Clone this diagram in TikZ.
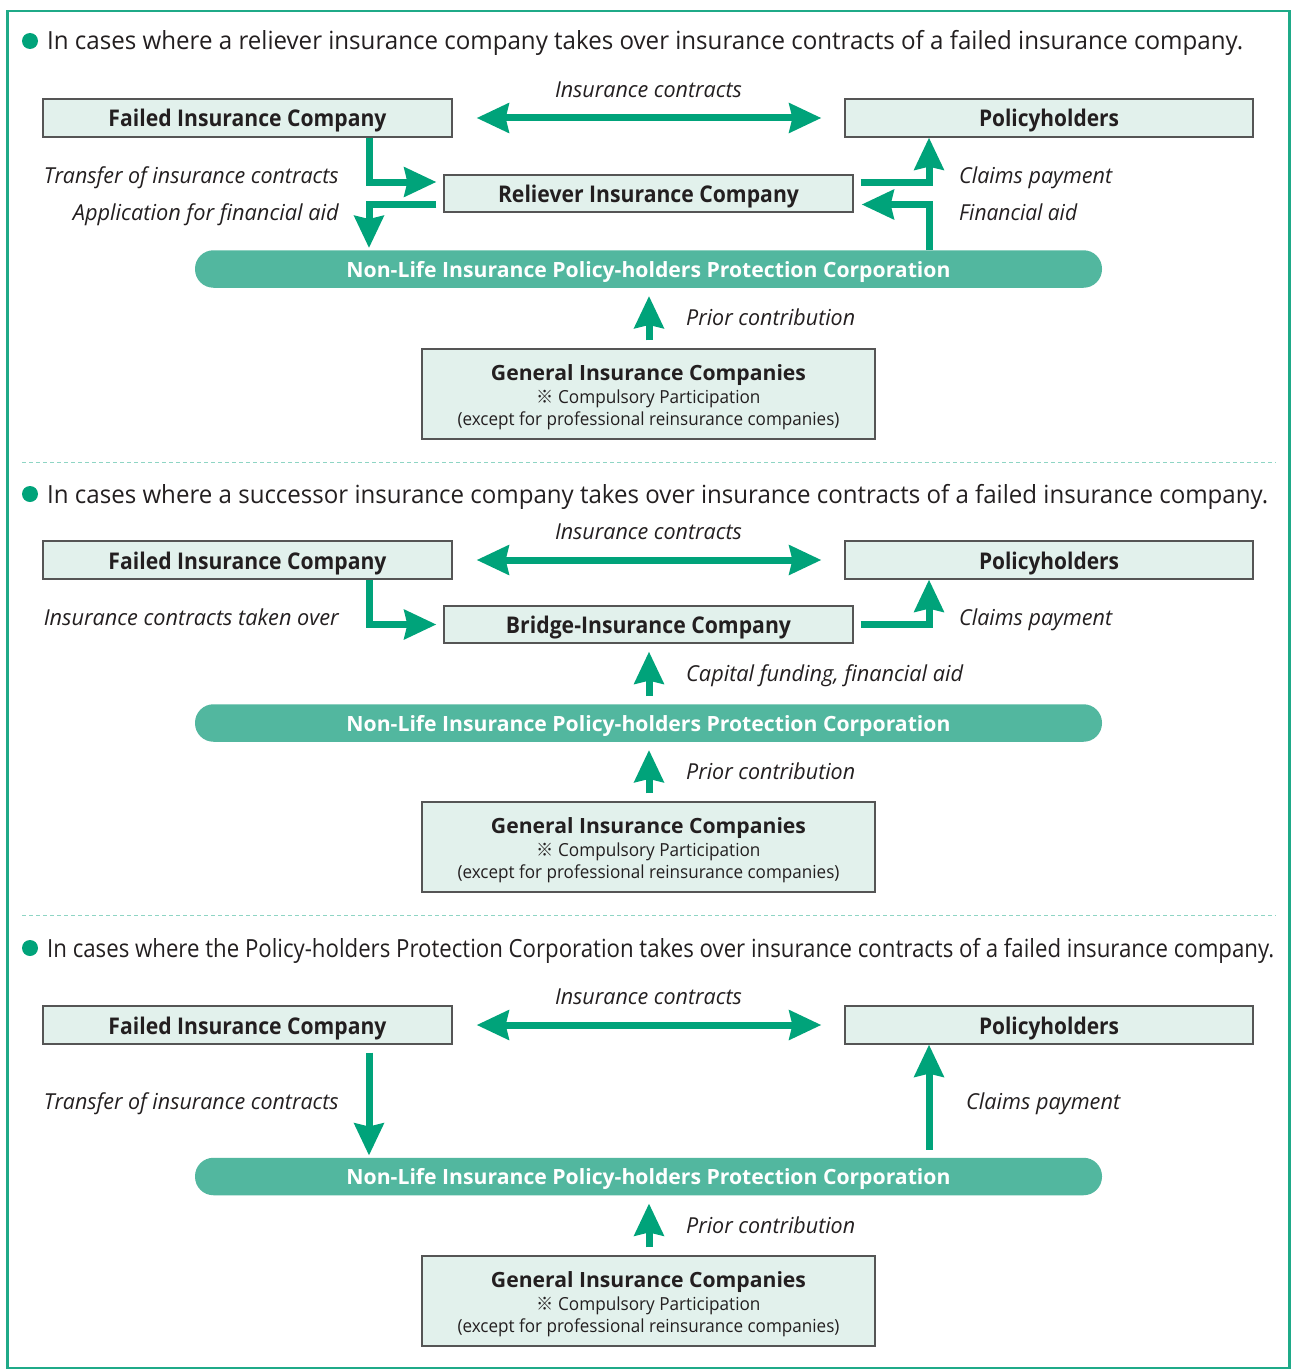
\documentclass[tikz,border=0pt]{standalone}
\usepackage{fontspec}
\usepackage{graphicx}
\setmainfont{Open Sans}
\newfontfamily\cjk{Noto Sans CJK JP}
\usetikzlibrary{arrows.meta,calc}
\definecolor{ag}{HTML}{00A37A}
\definecolor{pillc}{HTML}{52B79F}
\definecolor{boxf}{HTML}{E2F1EC}
\definecolor{boxd}{HTML}{555555}
\definecolor{framec}{HTML}{1FAA88}
\definecolor{sepc}{HTML}{8ED5C4}
\definecolor{txt}{HTML}{231F20}
\newcommand\fw[2]{\resizebox{#1pt}{\height}{#2}}
\begin{document}
\begin{tikzpicture}[x=1pt,y=-1pt,
  box/.style={draw=boxd,line width=1.2pt,fill=boxf,inner sep=0pt,minimum height=38pt,
    text height=18pt,text depth=0pt,
    font=\fontsize{23}{27}\selectfont\bfseries,text=txt},
  genbox/.style={draw=boxd,line width=1.2pt,fill=boxf,inner sep=0pt,minimum width=453pt,minimum height=90pt},
  gtitle/.style={inner sep=0pt,text height=16pt,text depth=0pt,font=\fontsize{21}{25}\selectfont\bfseries,text=txt},
  gsub/.style={inner sep=0pt,text height=14pt,text depth=0pt,font=\fontsize{18}{22}\selectfont,text=txt},
  pillbox/.style={fill=pillc,rounded corners=18.5pt,minimum width=907pt,minimum height=37.5pt,inner sep=0pt,
    text height=16pt,text depth=0pt,text=white,font=\fontsize{21}{25}\selectfont\bfseries},
  arr/.style={draw=ag,line width=7pt,-{Stealth[length=32pt,width=29pt,inset=3pt]}},
  darr/.style={draw=ag,line width=7pt,{Stealth[length=32pt,width=29pt,inset=3pt]}-{Stealth[length=32pt,width=29pt,inset=3pt]}},
  lbl/.style={font=\fontsize{22}{26}\selectfont\itshape,text=txt,inner sep=0pt,text height=15pt,text depth=0pt},
  ttl/.style={font=\fontsize{25}{29}\selectfont,text=txt,anchor=west,inner sep=0pt,text height=18pt,text depth=0pt},
  bullet/.style={circle,fill=ag,minimum size=16pt,inner sep=0pt},
  sepline/.style={draw=sepc,line width=1pt,dash pattern=on 4pt off 3pt},
]
\useasboundingbox (0,0) rectangle (1291,1370);
\fill[white] (0,0) rectangle (1291,1370);
\draw[framec,line width=2.5pt] (7.5,11) rectangle (1289.5,1368);

\coordinate (L) at (369,0);
\coordinate (R) at (929,0);
\coordinate (C) at (649,0);

% ---------------- Section 1 ----------------
\node[bullet] (b1) at (30,41) {};
\node[ttl] (t1) at (47,41) {\fw{1196}{In cases where a reliever insurance company takes over insurance contracts of a failed insurance company.}};
\node[box,minimum width=409pt] (f1) at (247.5,118) {\fw{278}{Failed Insurance Company}};
\node[box,minimum width=408pt] (p1) at (1049,118) {\fw{140}{Policyholders}};
\node[lbl] (ic1) at (648.5,90) {\fw{187}{Insurance contracts}};
\node[box,minimum width=409pt,minimum height=37pt] (r1) at (648.5,193.5) {\fw{301}{Reliever Insurance Company}};
\node[pillbox] (n1) at (648.5,269) {\fw{604}{Non-Life Insurance Policy-holders Protection Corporation}};
\node[genbox] (g1) at (648.5,394) {};
\node[gtitle] (g1a) at (648.5,372) {\fw{315}{General Insurance Companies}};
\node[gsub] (g1b) at (648.5,396) {\fw{224}{{\cjk ※} Compulsory Participation}};
\node[gsub] (g1c) at (648.5,418) {\fw{382}{(except for professional reinsurance companies)}};

\node[lbl,anchor=east] (l1a) at (339,176) {\fw{295}{Transfer of insurance contracts}};
\node[lbl,anchor=east] (l1b) at (339,213) {\fw{266}{Application for financial aid}};
\node[lbl,anchor=west] (l1c) at (959,176) {\fw{153}{Claims payment}};
\node[lbl,anchor=west] (l1d) at (959,213) {\fw{118}{Financial aid}};
\node[lbl,anchor=west] (l1e) at (686,318) {\fw{169}{Prior contribution}};

\draw[darr] ([xshift=24pt]f1.east) -- ([xshift=-23pt]p1.west);
\draw[arr] (f1.south -| L) |- ([xshift=-7pt,yshift=11.5pt]r1.west);
\draw[arr] ([xshift=-7pt,yshift=-11pt]r1.west) -| ([yshift=2pt]n1.north -| L);
\draw[arr] ([xshift=7pt,yshift=11.5pt]r1.east) -| (p1.south -| R);
\draw[arr] (n1.north -| R) |- ([xshift=8pt,yshift=-11pt]r1.east);
\draw[arr] ([yshift=8pt]g1.north -| C) -- ([yshift=-8pt]n1.south -| C);

\draw[sepline] (22,462) -- (1276,462);

% ---------------- Section 2 ----------------
\node[bullet] (b2) at (30,494) {};
\node[ttl] (t2) at (47,494) {\fw{1221}{In cases where a successor insurance company takes over insurance contracts of a failed insurance company.}};
\node[box,minimum width=409pt] (f2) at (247.5,560) {\fw{278}{Failed Insurance Company}};
\node[box,minimum width=408pt] (p2) at (1049,560) {\fw{140}{Policyholders}};
\node[lbl] (ic2) at (648.5,532) {\fw{187}{Insurance contracts}};
\node[box,minimum width=409pt,minimum height=37pt] (r2) at (648.5,624.5) {\fw{285}{Bridge-Insurance Company}};
\node[pillbox] (n2) at (648.5,723) {\fw{604}{Non-Life Insurance Policy-holders Protection Corporation}};
\node[genbox] (g2) at (648.5,847) {};
\node[gtitle] (g2a) at (648.5,825) {\fw{315}{General Insurance Companies}};
\node[gsub] (g2b) at (648.5,849) {\fw{224}{{\cjk ※} Compulsory Participation}};
\node[gsub] (g2c) at (648.5,871) {\fw{382}{(except for professional reinsurance companies)}};

\node[lbl,anchor=east] (l2a) at (339,618) {\fw{295}{Insurance contracts taken over}};
\node[lbl,anchor=west] (l2b) at (959,618) {\fw{153}{Claims payment}};
\node[lbl,anchor=west] (l2c) at (686,674) {\fw{277}{Capital funding, financial aid}};
\node[lbl,anchor=west] (l2d) at (686,772) {\fw{169}{Prior contribution}};

\draw[darr] ([xshift=24pt]f2.east) -- ([xshift=-23pt]p2.west);
\draw[arr] (f2.south -| L) |- ([xshift=-7pt]r2.west);
\draw[arr] ([xshift=7pt]r2.east) -| (p2.south -| R);
\draw[arr] ([yshift=8pt]n2.north -| C) -- ([yshift=-8pt]r2.south -| C);
\draw[arr] ([yshift=8pt]g2.north -| C) -- ([yshift=-8pt]n2.south -| C);

\draw[sepline] (22,915) -- (1276,915);

% ---------------- Section 3 ----------------
\node[bullet] (b3) at (30,948) {};
\node[ttl] (t3) at (47,948) {\fw{1227}{In cases where the Policy-holders Protection Corporation takes over insurance contracts of a failed insurance company.}};
\node[box,minimum width=409pt] (f3) at (247.5,1025) {\fw{278}{Failed Insurance Company}};
\node[box,minimum width=408pt] (p3) at (1049,1025) {\fw{140}{Policyholders}};
\node[lbl] (ic3) at (648.5,997) {\fw{187}{Insurance contracts}};
\node[pillbox] (n3) at (648.5,1176.5) {\fw{604}{Non-Life Insurance Policy-holders Protection Corporation}};
\node[genbox] (g3) at (648.5,1301) {};
\node[gtitle] (g3a) at (648.5,1279) {\fw{315}{General Insurance Companies}};
\node[gsub] (g3b) at (648.5,1303) {\fw{224}{{\cjk ※} Compulsory Participation}};
\node[gsub] (g3c) at (648.5,1325) {\fw{382}{(except for professional reinsurance companies)}};

\node[lbl,anchor=east] (l3a) at (339,1102) {\fw{295}{Transfer of insurance contracts}};
\node[lbl,anchor=west] (l3b) at (966,1102) {\fw{154}{Claims payment}};
\node[lbl,anchor=west] (l3c) at (686,1226) {\fw{169}{Prior contribution}};

\draw[darr] ([xshift=24pt]f3.east) -- ([xshift=-23pt]p3.west);
\draw[arr] ([yshift=-8pt]f3.south -| L) -- ([yshift=2pt]n3.north -| L);
\draw[arr] ([yshift=8pt]n3.north -| R) -- (p3.south -| R);
\draw[arr] ([yshift=8pt]g3.north -| C) -- ([yshift=-8pt]n3.south -| C);
\end{tikzpicture}
\end{document}
